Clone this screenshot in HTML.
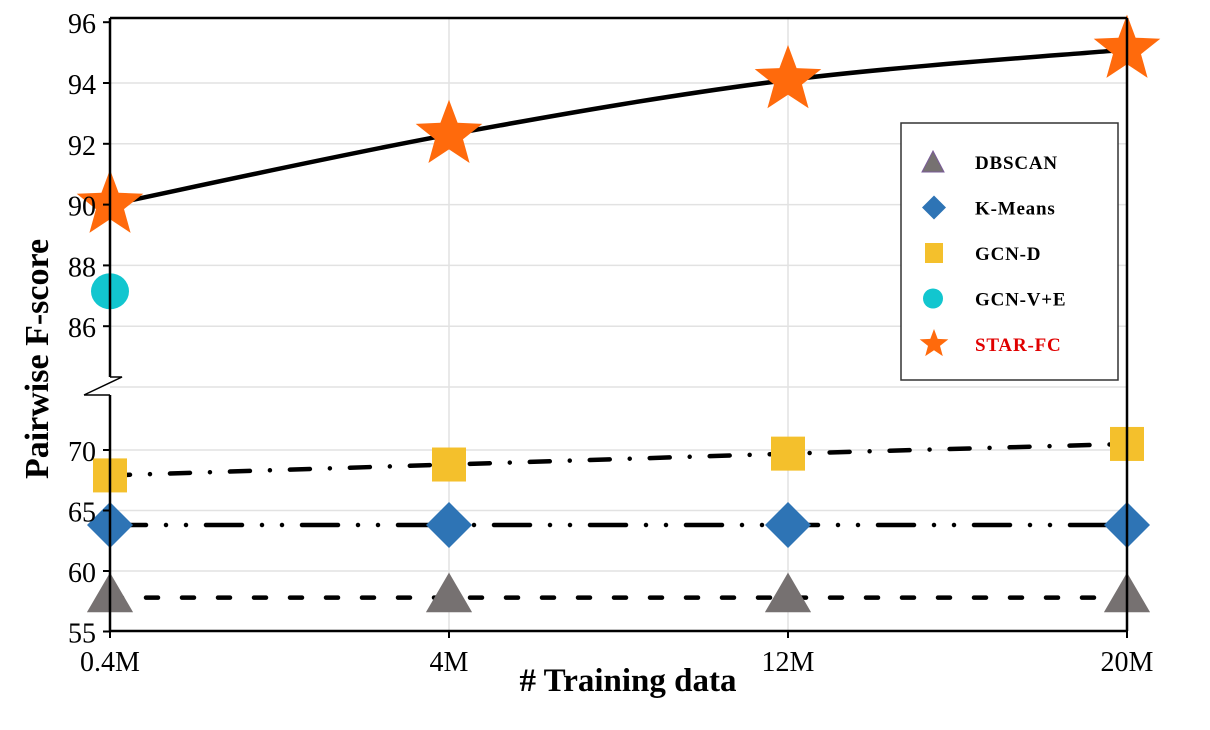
<!DOCTYPE html>
<html><head><meta charset="utf-8"><style>
body{margin:0;background:#fff;}
svg text{font-family:"Liberation Serif",serif;}
</style></head><body>
<svg id="chart" width="1210" height="725" viewBox="0 0 1210 725" xmlns="http://www.w3.org/2000/svg">
<g id="grid"></g>
<g id="series"></g>
<g id="axes"></g>
</svg>
<script>
const categories = ["0.4M","4M","12M","20M"];
const upperTicks = [86,88,90,92,94,96];
const lowerTicks = [55,60,65,70];
const dbscan = [57.8,57.8,57.8,57.8];
const kmeans = [63.8,63.8,63.8,63.8];
const gcnD = [67.9,68.8,69.7,70.5];
const gcnVE = [87.15];
const starFC = [90.0,92.3,94.1,95.1];

const NS="http://www.w3.org/2000/svg";
const svg=document.getElementById('chart');
const gGrid=document.getElementById('grid'), gSer=document.getElementById('series'), gAx=document.getElementById('axes');
const X0=110, X1=1127, YB=631, YT=18;
function x(i){return X0+(X1-X0)*i/(categories.length-1);}
function y(v){ if(v>=84) return 387-(v-84)*30.4; return 450+(70-v)*12.1; }
function el(tag,attrs,parent){const e=document.createElementNS(NS,tag);for(const k in attrs)e.setAttribute(k,attrs[k]);parent.appendChild(e);return e;}

[...upperTicks,84,...lowerTicks].forEach(v=>{
  if(v===96||v===55) return;
  const l=el('line',{x1:X0,x2:X1,y1:y(v),y2:y(v),stroke:'#e2e2e2','stroke-width':1.5},gGrid);
  
  
});
categories.forEach((c,i)=>{
  if(i===0||i===categories.length-1) return;
  const l=el('line',{x1:x(i),x2:x(i),y1:YT,y2:YB,stroke:'#e2e2e2','stroke-width':1.5},gGrid);
  
  
});

function line(vals,dash,name){
  const p=el('polyline',{points:vals.map((v,i)=>x(i)+','+y(v)).join(' '),fill:'none',stroke:'#000','stroke-width':4.5,'stroke-linecap':'round','stroke-dasharray':dash},gSer);
  
  
}
line(dbscan,'12 24','dbscan-line');
line(kmeans,'36 20 0 20 0 20','kmeans-line');
line(gcnD,'20 20 0 20','gcn-d-line');
{
  const pts=starFC.map((v,i)=>[x(i),y(v)]);
  let d='M'+pts[0][0]+','+pts[0][1];
  for(let i=0;i<pts.length-1;i++){
    const p0=pts[Math.max(i-1,0)],p1=pts[i],p2=pts[i+1],p3=pts[Math.min(i+2,pts.length-1)];
    const c1=[p1[0]+(p2[0]-p0[0])/6,p1[1]+(p2[1]-p0[1])/6];
    const c2=[p2[0]-(p3[0]-p1[0])/6,p2[1]-(p3[1]-p1[1])/6];
    d+=' C'+c1+' '+c2+' '+p2;
  }
  const p=el('path',{d:d,fill:'none',stroke:'#000','stroke-width':4.5},gSer);
  
  
}
function tri(cx,cy,s,fill){return el('polygon',{points:`${cx},${cy-s} ${cx-s*1.05},${cy+s*0.8} ${cx+s*1.05},${cy+s*0.8}`,fill:fill},gSer);}
function dia(cx,cy,s){return el('polygon',{points:`${cx},${cy-s} ${cx+s},${cy} ${cx},${cy+s} ${cx-s},${cy}`,fill:'#2e74b5'},gSer);}
function sq(cx,cy,s){return el('rect',{x:cx-s,y:cy-s,width:2*s,height:2*s,fill:'#f4c02c'},gSer);}
function star(cx,cy,R,parent){let p=[];for(let k=0;k<10;k++){const r=k%2?R*0.42:R;const a=-Math.PI/2+k*Math.PI/5;p.push((cx+r*Math.cos(a)).toFixed(1)+','+(cy+r*Math.sin(a)).toFixed(1));}return el('polygon',{points:p.join(' '),fill:'#ff6a0c'},parent||gSer);}
dbscan.forEach((v,i)=>{const m=tri(x(i),y(v)-3,22,'#767171');});
kmeans.forEach((v,i)=>{const m=dia(x(i),y(v),23);});
gcnD.forEach((v,i)=>{const m=sq(x(i),y(v),17);});
gcnVE.forEach((v,i)=>{const m=el('ellipse',{cx:x(i),cy:y(v),rx:19,ry:18,fill:'#12c6cf'},gSer);});
starFC.forEach((v,i)=>{const m=star(x(i),y(v),35);});

{
 let a=el('path',{d:`M${X0},${YT} L${X0},377 M${X0},395 L${X0},${YB} L${X1},${YB} M${X1},${YT} L${X1},${YB} M${X0},${YT} L${X1},${YT}`,fill:'none',stroke:'#000','stroke-width':2.5},gAx);
 
 let z=el('path',{d:`M84,395 L122,377 L${X0},377 M${X0},395 L84,395`,fill:'none',stroke:'#000','stroke-width':1.5},gAx);
 
}
[...upperTicks,...lowerTicks].forEach(v=>{
  const t=el('line',{x1:X0-7,x2:X0,y1:y(v),y2:y(v),stroke:'#000','stroke-width':2},gAx);
  
  const tx=el('text',{x:96,y:y(v)+11,'text-anchor':'end','font-size':28},gAx);
  tx.textContent=v;
  
});
categories.forEach((c,i)=>{
  const t=el('line',{x1:x(i),x2:x(i),y1:YB,y2:YB+7,stroke:'#000','stroke-width':2},gAx);
  
  const tx=el('text',{x:x(i),y:671,'text-anchor':'middle','font-size':28},gAx);
  tx.textContent=c;
  
});
{
 const t=el('text',{x:628,y:691,'text-anchor':'middle','font-size':33,'font-weight':'bold'},gAx);t.textContent='# Training data';
 
 const t2=el('text',{x:0,y:0,transform:'translate(48,359) rotate(-90)','text-anchor':'middle','font-size':34,'font-weight':'bold'},gAx);t2.textContent='Pairwise F-score';
 
}
{
 const g=el('g',{},gAx);
 el('rect',{x:901,y:123,width:217,height:257,fill:'#fff',stroke:'#333','stroke-width':1.5},g);
 const items=[['DBSCAN','#000'],['K-Means','#000'],['GCN-D','#000'],['GCN-V+E','#000'],['STAR-FC','#e00000']];
 items.forEach((it,k)=>{
   const cy=162+k*45.5;
   let m;
   if(k===0) m=el('polygon',{points:`933,${cy-11} 922,${cy+10} 944,${cy+10}`,fill:'#767171',stroke:'#7a5c99','stroke-width':1},g);
   if(k===1) m=el('polygon',{points:`934,${cy-12} 946,${cy} 934,${cy+12} 922,${cy}`,fill:'#2e74b5'},g);
   if(k===2) m=el('rect',{x:925,y:cy-10,width:18,height:20,fill:'#f4c02c'},g);
   if(k===3) m=el('circle',{cx:933,cy:cy,r:10,fill:'#12c6cf'},g);
   if(k===4) m=star(934,cy,15,g);
   
   const t=el('text',{x:975,y:cy+7,'font-size':19,'font-weight':'bold','letter-spacing':0.8,fill:it[1]},g);t.textContent=it[0];
   
 });
}
</script>
</body></html>
